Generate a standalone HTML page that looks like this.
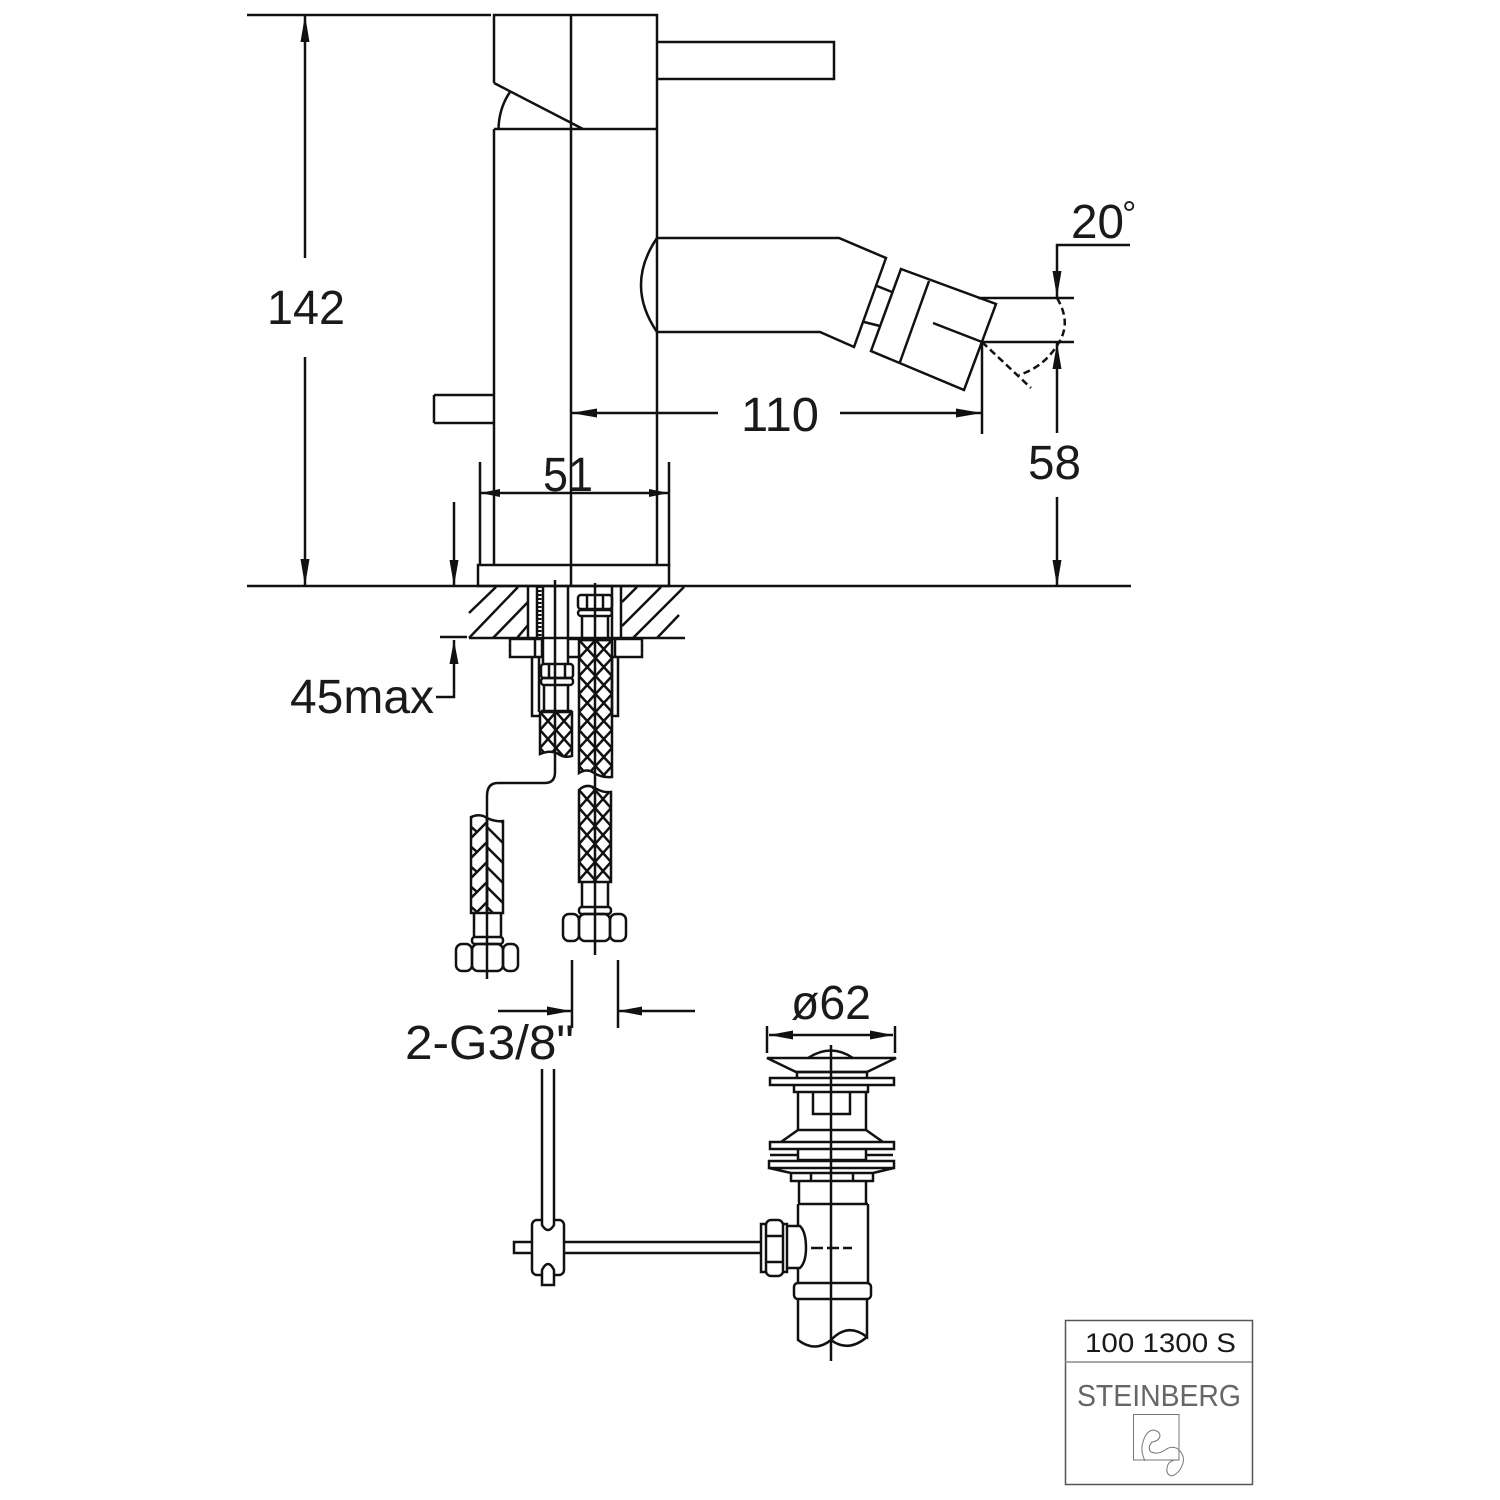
<!DOCTYPE html>
<html><head><meta charset="utf-8"><style>html,body{margin:0;padding:0;background:#fff}svg{display:block}text{font-family:"Liberation Sans",sans-serif;fill:#1a1a1a}</style></head><body>
<svg width="1500" height="1500" viewBox="0 0 1500 1500" xmlns="http://www.w3.org/2000/svg">
<defs>
<pattern id="x" width="16.5" height="18" patternUnits="userSpaceOnUse" x="579" y="640"><path d="M0 0L16.5 18M16.5 0L0 18" stroke="#111" stroke-width="2.5" fill="none"/></pattern>
<pattern id="x2" width="16" height="18" patternUnits="userSpaceOnUse" x="540" y="712"><path d="M0 0L16 18M16 0L0 18" stroke="#111" stroke-width="2.5" fill="none"/></pattern>
<pattern id="x3" width="16" height="18" patternUnits="userSpaceOnUse" x="579" y="790"><path d="M0 0L16 18M16 0L0 18" stroke="#111" stroke-width="2.5" fill="none"/></pattern>
<pattern id="l1" width="16" height="20" patternUnits="userSpaceOnUse" x="471" y="842"><path d="M-1 17L17 -1M0 4.700L6 10" stroke="#111" stroke-width="2.500" fill="none"/></pattern>
<pattern id="l2" width="16" height="20" patternUnits="userSpaceOnUse" x="487" y="827"><path d="M-1 -1L17 17" stroke="#111" stroke-width="2.500" fill="none"/></pattern>
</defs>
<g fill="none" stroke="#111" stroke-width="2.5" stroke-linecap="butt" stroke-linejoin="miter">
<!-- body -->
<path d="M494 83V15H657V129H583L494 83M494 129H657M494 129V565M657 42V15M657 129V565M571 15V586"/>
<path d="M510 92Q499 108 498.500 129"/>
<path d="M657 42H834V79H657M434 395H494M434 423H494M434 395V423"/>
<!-- spout -->
<path d="M657 238H839L886 258L854 347L820 332H657Q625 285 657 238"/>
<path d="M901 269L996 304L964 390L871 351ZM929 281L900 362M933 323L982 342M877 286L892 292M864 322L880 326"/>
<path d="M978 298H1074M982 342H1074M982 342V434"/>
<path d="M982 342L1031 388M1057 298Q1072 323 1058 344Q1044 367 1019 375" stroke-dasharray="7 4"/>
<path d="M1057 297V245H1130M1057 343V433M1057 497V586"/>
<!-- dims -->
<path d="M247 15H491M247 586H1131M305 15V258M305 357V586"/>
<path d="M571 413H718M840 413H982"/>
<path d="M480 462V566M669 462V566M480 493H669"/>
<path d="M478 565H669V586H478Z"/>
<path d="M454 502V586M440 637H467M469 638H685M454 640V697H436"/>
<!-- hatch -->
<path d="M469 613L496 587M469 638L518 587M493 638L528 602M517 638L528 625M622 602L637 587M622 626L661 587M633 638L684 587M657 638L679 615"/>
<!-- inner fittings -->
<path d="M528 586V638M537 586V638M543 586V664M568 586V664M612 586V638M621 586V638"/>
<path d="M539.500 586V638" stroke-width="4" stroke-dasharray="2 2"/>
<path d="M510 639H543M568 639H579M612 639H642V657H612M510 639V657H543M568 657H579M535 639V657M542 639V657M615 639V657"/>
<path d="M532 657V716H540M539 657V712M612 657V716H618V657"/>
<rect x="541" y="664" width="32" height="14" rx="3"/><path d="M549 664V678M565 664V678"/>
<rect x="541" y="678" width="32" height="7" rx="3"/>
<path d="M544 685V710M568 685V710M541 711H572"/>
<rect x="578" y="595" width="34" height="14" rx="3"/><path d="M587 595V609M603 595V609"/>
<rect x="578" y="610" width="34" height="6" rx="3"/>
<path d="M582 616V640M608 616V640M579 640H612"/>
<!-- braids -->
<path d="M540 712H572V756Q566 758 560 755Q552 749 540 754Z" fill="url(#x2)"/>
<path d="M579 640H612V777Q602 778 594 773Q587 768 579 773Z" fill="url(#x)"/>
<path d="M579 790Q586 783 595 788Q603 793 611 792V882H579Z" fill="url(#x3)"/>
<path d="M487 818Q495 822 503 821V913H487Z" fill="url(#l2)"/>
<path d="M471 817Q480 813 487 818V913H471Z" fill="url(#l1)"/>
<!-- center lines and hose -->
<path d="M555 580V772Q555 783 545 783H498Q487 783 487 796V979"/>
<path d="M595 583V955"/>
<!-- lower fittings right -->
<path d="M582 882V907M608 882V907"/>
<rect x="579" y="907" width="32" height="7" rx="3"/>
<rect x="563" y="914" width="16" height="27" rx="6"/><rect x="579" y="914" width="31" height="27" rx="6"/><rect x="610" y="914" width="16" height="27" rx="6"/>
<!-- lower fittings left -->
<path d="M474 913V937M501 913V937"/>
<rect x="472" y="937" width="31" height="7" rx="3"/>
<rect x="456" y="944" width="16" height="27" rx="6"/><rect x="472" y="944" width="31" height="27" rx="6"/><rect x="503" y="944" width="15" height="27" rx="6"/>
<!-- G3/8 dim -->
<path d="M572 960V1028M618 960V1028M498 1011H571M618 1011H695"/>
<!-- phi62 -->
<path d="M767 1026V1053M895 1026V1053M769 1035H893"/>
<!-- drain -->
<path d="M767 1058H896L867 1072H796ZM808 1058Q831 1043 853 1058"/>
<path d="M797 1072H867V1078H797ZM770 1078H894V1085H770ZM794 1085H868V1092H794ZM798 1092V1130M866 1092V1130M813 1092V1114H850V1092"/>
<path d="M781 1142L798 1130H866L883 1142M770 1142H894V1149H770ZM770 1155H797M867 1155H893M798 1149V1160M866 1149V1160M798 1160H866"/>
<path d="M769 1161H894V1168H769ZM769 1168L791 1173H873L894 1168M791 1173V1181H873V1173M811 1173V1181M853 1173V1181"/>
<path d="M799 1181V1203M866 1181V1203M798 1204H868M798 1204V1226M798 1268V1283M868 1204V1283"/>
<rect x="794" y="1283" width="77" height="16" rx="4"/>
<path d="M798 1299V1340Q815 1353 831 1340Q848 1322 867 1337V1299M831 1340Q848 1353 867 1337"/>
<path d="M831 1045V1361"/>
<path d="M811 1248H852" stroke-dasharray="12 4"/>
<!-- side nut & rod -->
<path d="M787 1226H800Q806 1232 806 1248Q806 1262 800 1268H787"/>
<rect x="761" y="1224" width="26" height="48"/>
<rect x="766" y="1220" width="17" height="56" rx="5" fill="#fff"/>
<path d="M766 1236H783M766 1262H783"/>
<path d="M565 1242H761M565 1253H761M532 1242H514V1253H532"/>
<rect x="532" y="1220" width="32" height="55" rx="5"/>
<path d="M542 1069V1225Q548 1235 554 1225V1069" fill="#fff"/>
<path d="M542 1285V1270Q548 1258 554 1270V1285Z" fill="#fff"/>
</g>
<!-- arrows -->
<g fill="#111" stroke="none">
<polygon points="305,15 300.500,42 309.500,42"/><polygon points="305,586 300.500,559 309.500,559"/>
<polygon points="571,413 597,408.500 597,417.500"/><polygon points="982,413 956,408.500 956,417.500"/>
<polygon points="480,493 500,489 500,497"/><polygon points="669,493 649,489 649,497"/>
<polygon points="1057,297 1052.500,271 1061.500,271"/><polygon points="1057,343 1052.500,369 1061.500,369"/><polygon points="1057,586 1052.500,560 1061.500,560"/>
<polygon points="454,586 449.500,560 458.500,560"/><polygon points="454,640 449.500,664 458.500,664"/>
<polygon points="571,1011 547,1006.500 547,1015.500"/><polygon points="618,1011 642,1006.500 642,1015.500"/>
<polygon points="769,1035 793,1030.500 793,1039.500"/><polygon points="893,1035 870,1030.500 870,1039.500"/>
</g>
<!-- labels -->
<g font-size="48">
<text x="267" y="324" textLength="78" lengthAdjust="spacingAndGlyphs">142</text>
<text x="741" y="431" textLength="78" lengthAdjust="spacingAndGlyphs">110</text>
<text x="543" y="491" textLength="50" lengthAdjust="spacingAndGlyphs">51</text>
<text x="1028" y="479" textLength="53" lengthAdjust="spacingAndGlyphs">58</text>
<text x="1071" y="238" textLength="53" lengthAdjust="spacingAndGlyphs">20</text>
<text x="290" y="713" textLength="144" lengthAdjust="spacingAndGlyphs">45max</text>
<text x="791" y="1019" textLength="80" lengthAdjust="spacingAndGlyphs">ø62</text>
<text x="405" y="1059" textLength="169" lengthAdjust="spacingAndGlyphs">2-G3/8"</text>
</g>
<text x="1122" y="226" font-size="36">°</text>
<!-- title block -->
<g fill="none" stroke="#555" stroke-width="1.500">
<rect x="1065.500" y="1320.500" width="187" height="164"/>
<path d="M1065 1362H1252" stroke="#888"/>
<path d="M1133.500 1414.500H1179V1460H1133.500Z" stroke-width="1" stroke="#777"/>
<path d="M1145 1461Q1140 1450 1143 1442Q1146 1431 1153 1430Q1160 1431 1160 1436Q1159 1441 1152 1442Q1147 1448 1151 1452Q1158 1455 1165 1450Q1172 1445 1178 1449Q1185 1455 1183 1463Q1180 1473 1172 1476Q1166 1475 1167 1468Q1168 1461 1175 1460" stroke-width="1" stroke="#777"/>
</g>
<text x="1085" y="1352" font-size="27" textLength="151" lengthAdjust="spacingAndGlyphs">100 1300 S</text>
<text x="1077" y="1406" font-size="31" textLength="164" lengthAdjust="spacingAndGlyphs" style="fill:#666">STEINBERG</text>
</svg>
</body></html>
